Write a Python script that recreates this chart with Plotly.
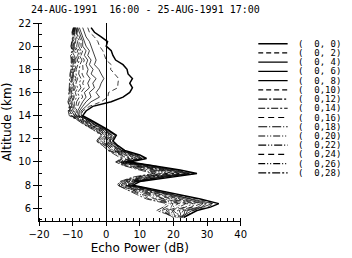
import plotly.graph_objects as go

# Altitude grid (km)
altitude = [21.6, 21.2, 20.8, 20.4, 20.0, 19.6, 19.2, 18.8, 18.4, 18.0, 17.6, 17.2, 16.8, 16.4,
            16.0, 15.6, 15.2, 14.8, 14.4, 14.0, 13.6, 13.2, 12.8, 12.3, 11.8, 11.4, 11.0, 10.6,
            10.3, 10.0, 9.7, 9.3, 9.0, 8.7, 8.3, 8.0, 7.6, 7.2, 6.8, 6.4, 6.1, 5.8, 5.5, 5.2]

# Echo power profiles (dB) per beam (azimuth, zenith)
p00 = [-4.5, -3.5, -1.5, 0.4, 0.0, 1.5, 2.0, 2.8, 5.0, 6.2, 6.5, 7.8, 7.0, 7.8, 7.0, 5.0, 1.5, -4.0, -6.0,
       -7, -4.5, -2, 0.5, 3, 2, 3.5, 5.5, 10, 12, 7, 14, 22, 27, 19, 10, 8, 15, 22, 28, 33.5, 31, 27, 25, 23]
p02 = [-5.5, -5.0, -3.5, -2.5, -2.0, -1.0, -0.5, 0.0, 1.5, 1.3, 2.5, 3.7, 3.5, 3.4, 0.7, 0.5, -1.5, -5.0, -7.0,
       -7.5, -4.6, -2.5, 0.4, 2.5, 1.8, 3.0, 5.3, 9.3, 11.7, 6.5, 13.6, 20.8, 26.3, 18.0, 9.8, 7.5, 14.6, 20.8, 27.2, 32.0, 30.3, 25.8, 24.7, 22.6]
p04 = [-7.0, -6.5, -6.0, -5.0, -4.5, -4.0, -3.5, -3.0, -3.5, -2.2, -1.5, -0.7, -1.5, -2.0, -3.0, -2.0, -4.5, -6.0, -7.5,
       -7.4, -5.3, -2.4, -0.3, 2.6, 1.1, 3.1, 4.6, 9.2, 10.7, 6.6, 12.5, 20.5, 24.8, 17.6, 8.9, 7.5, 13.5, 20.3, 25.4, 31.5, 28.7, 25.5, 23.8, 22.4]
p06 = [-8.0, -7.5, -7.0, -6.5, -6.0, -5.0, -5.5, -4.5, -5.0, -3.9, -4.5, -3.0, -4.0, -3.5, -5.0, -4.5, -6.0, -7.0, -8.0,
       -8.1, -5.2, -3.2, -0.3, 1.8, 1.1, 2.3, 4.6, 8.3, 10.6, 5.9, 12.3, 19.2, 24.5, 16.4, 8.9, 6.8, 13.3, 19.0, 24.9, 29.8, 28.3, 24.2, 23.7, 22.2]
p08 = [-8.5, -8.0, -7.5, -7.0, -7.0, -6.0, -6.5, -5.5, -6.0, -5.4, -5.8, -4.8, -5.5, -5.0, -6.5, -6.0, -7.0, -7.8, -8.5,
       -8.3, -5.4, -3.5, -0.6, 1.5, 0.8, 2.0, 4.3, 7.8, 10.1, 5.6, 11.6, 18.4, 23.6, 15.7, 8.5, 6.5, 12.6, 18.1, 23.7, 28.8, 27.3, 23.4, 23.2, 21.9]
p10 = [-8.5, -8.5, -8.0, -7.5, -7.5, -7.0, -7.5, -6.5, -7.0, -6.9, -7.2, -6.5, -7.0, -6.5, -7.5, -7.0, -8.0, -8.5, -9.0,
       -8.2, -6.1, -3.4, -1.3, 1.6, 0.0, 2.1, 3.5, 7.7, 9.1, 5.7, 10.6, 17.9, 22.1, 15.3, 7.7, 6.5, 11.6, 17.6, 22.0, 28.2, 25.7, 22.9, 22.3, 22.1]
p12 = [-9.0, -8.8, -8.5, -8.0, -8.2, -7.5, -8.0, -7.2, -7.8, -8.0, -8.2, -7.5, -8.0, -7.5, -8.5, -8.0, -8.8, -9.0, -9.5,
       -8.9, -6.0, -4.1, -1.2, 0.9, 0.1, 1.4, 3.6, 6.8, 9.0, 5.0, 10.3, 16.7, 21.7, 14.1, 7.6, 5.8, 11.3, 16.2, 21.4, 26.6, 25.3, 21.7, 22.2, 21.5]
p14 = [-9.0, -9.0, -8.8, -8.5, -8.8, -8.0, -8.5, -8.0, -8.5, -8.9, -9.0, -8.5, -9.0, -8.5, -9.2, -8.8, -9.5, -9.5, -9.8,
       -8.8, -6.7, -4.1, -1.9, 0.9, -0.7, 1.4, 2.8, 6.7, 8.0, 5.1, 9.3, 16.2, 20.2, 13.7, 6.8, 5.8, 10.3, 15.7, 19.7, 25.9, 23.7, 21.2, 21.3, 21.7]
p16 = [-9.2, -9.3, -9.0, -9.0, -9.2, -8.5, -9.0, -8.5, -9.0, -9.3, -9.5, -9.0, -9.5, -9.2, -9.8, -9.5, -10.0, -9.8, -10.0,
       -9.5, -6.6, -4.8, -1.9, 0.2, -0.7, 0.7, 2.8, 5.8, 7.9, 4.4, 9.1, 14.9, 19.9, 12.5, 6.8, 5.1, 10.1, 14.4, 19.2, 24.3, 23.3, 19.9, 21.2, 21.1]
p18 = [-9.3, -9.5, -9.3, -9.3, -9.5, -9.0, -9.5, -9.0, -9.3, -9.6, -9.8, -9.5, -9.8, -9.6, -10.0, -9.8, -10.2, -10.0, -10.3,
       -9.4, -7.3, -4.7, -2.6, 0.3, -1.4, 0.8, 2.1, 5.7, 7.0, 4.5, 8.0, 14.5, 18.3, 12.1, 5.9, 5.2, 9.0, 13.8, 17.4, 23.7, 21.7, 19.5, 20.3, 21.3]
p20 = [-9.5, -9.6, -9.5, -9.6, -9.8, -9.3, -9.8, -9.4, -9.6, -9.8, -10.0, -9.8, -10.0, -10.0, -10.3, -10.0, -10.5, -10.3, -10.5,
       -10.1, -7.2, -5.4, -2.5, -0.4, -1.4, 0.1, 2.1, 4.8, 6.8, 3.8, 7.8, 13.2, 18.0, 10.9, 5.9, 4.4, 8.8, 12.5, 16.9, 22.1, 21.3, 18.2, 20.2, 20.7]
p22 = [-9.5, -9.8, -9.6, -9.8, -10.0, -9.6, -10.0, -9.7, -9.8, -10.0, -10.2, -10.0, -10.3, -10.2, -10.5, -10.3, -10.8, -10.5, -10.8,
       -10.3, -7.8, -5.3, -3.2, -0.3, -2.1, 0.2, 1.4, 4.7, 5.9, 3.9, 6.7, 12.8, 16.5, 10.6, 5.1, 4.5, 7.7, 12.0, 15.1, 21.5, 19.7, 17.8, 19.3, 20.8]
p24 = [-9.6, -10.0, -9.8, -10.0, -10.3, -9.8, -10.2, -10.0, -10.0, -10.1, -10.4, -10.3, -10.5, -10.5, -10.8, -10.5, -11.0, -10.7, -11.0,
       -10.6, -7.7, -6.1, -3.2, -1.1, -2.5, -0.2, 1.0, 4.2, 5.4, 3.2, 6.5, 11.5, 16.2, 9.4, 4.7, 3.8, 7.5, 10.7, 14.6, 19.9, 19.3, 16.5, 18.8, 20.2]
p26 = [-9.7, -10.0, -9.9, -10.2, -10.4, -10.0, -10.4, -10.2, -10.2, -10.3, -10.6, -10.5, -10.7, -10.8, -11.0, -10.7, -11.2, -10.9, -11.2,
       -10.5, -8.4, -6.0, -3.9, -1.0, -2.8, -0.5, 0.7, 3.7, 4.8, 3.0, 5.4, 11.1, 14.6, 9.0, 4.2, 3.5, 6.4, 10.1, 12.8, 19.3, 17.7, 16.1, 18.3, 20.0]
p28 = [-9.8, -10.2, -10.0, -10.3, -10.5, -10.2, -10.6, -10.4, -10.4, -10.5, -10.8, -10.8, -11.0, -11.0, -11.2, -11.0, -11.4, -11.0, -11.3,
       -11.0, -8.5, -6.5, -4.0, -1.5, -3.0, -1.0, 0.5, 3.0, 4.5, 2.8, 5.0, 10.0, 14.0, 8.0, 4.0, 3.3, 6.0, 9.0, 12.0, 18.0, 17.0, 15.0, 18.0, 20.0]

beam_labels = ["(  0, 0)", "(  0, 2)", "(  0, 4)", "(  0, 6)", "(  0, 8)", "(  0,10)", "(  0,12)", "(  0,14)",
               "(  0,16)", "(  0,18)", "(  0,20)", "(  0,22)", "(  0,24)", "(  0,26)", "(  0,28)"]
title_text = "24-AUG-1991  16:00 - 25-AUG-1991 17:00"

profiles = [p00, p02, p04, p06, p08, p10, p12, p14, p16, p18, p20, p22, p24, p26, p28]
dashes = ["solid", "5px,3px", "solid", "solid", "solid", "5px,3px", "9px,2px,2px,2px", "7px,2px,2px,2px",
          "6px,4px", "9px,2px,1px,2px", "7px,2px,1px,2px,1px,2px", "8px,2px,1px,2px,1px,2px", "6px,4px",
          "7px,2px,1px,2px,1px,2px", "8px,2px,2px,2px"]
widths = [1.5] + [0.75] * 14

fig = go.Figure()
for prof, dsh, w in zip(profiles, dashes, widths):
    fig.add_trace(go.Scatter(x=prof, y=altitude, mode="lines",
                             line=dict(color="black", width=w, dash=dsh),
                             showlegend=False, hoverinfo="skip"))

# legend drawn on its own small axes
for i, (lab, dsh, w) in enumerate(zip(beam_labels, dashes, widths)):
    fig.add_trace(go.Scatter(x=[0, 0.36], y=[i, i], mode="lines", xaxis="x3", yaxis="y3",
                             line=dict(color="black", width=max(w, 1.2), dash=dsh),
                             showlegend=False, hoverinfo="skip"))
    fig.add_annotation(x=0.46, y=i, xref="x3", yref="y3", text=lab, showarrow=False,
                       xanchor="left", yanchor="middle",
                       font=dict(family="DejaVu Sans Mono", size=9, color="black"))

W, H = 352, 258
ml, mr, mt, mb = 37, 6, 23, 33
pw = W - ml - mr
ph = H - mt - mb
xd_end = (244 - ml) / pw

fig.update_layout(
    width=W, height=H,
    margin=dict(l=ml, r=mr, t=mt, b=mb, pad=0),
    paper_bgcolor="white", plot_bgcolor="white",
    font=dict(family="DejaVu Sans", color="black", size=10),
    title=dict(text=title_text, x=31 / W, xanchor="left", xref="container",
               y=1 - 9 / H, yanchor="middle", yref="container",
               font=dict(family="DejaVu Sans Mono", size=10, color="black")),
    xaxis=dict(domain=[0, xd_end], range=[-20, 40], tick0=0, dtick=10,
               ticks="outside", ticklen=4, tickwidth=1, tickcolor="black",
               minor=dict(dtick=2, ticks="inside", ticklen=3, tickcolor="black", showgrid=False),
               showline=True, linecolor="black", linewidth=1, showgrid=False,
               zeroline=True, zerolinecolor="black", zerolinewidth=1,
               tickfont=dict(size=10), anchor="y",
               title=dict(text="Echo Power (dB)", font=dict(size=12), standoff=4)),
    xaxis2=dict(domain=[0, xd_end], range=[-20, 40], overlaying="x", side="top", anchor="y",
                tick0=0, dtick=10, ticks="inside", ticklen=5, tickcolor="black",
                minor=dict(dtick=2, ticks="inside", ticklen=3, tickcolor="black", showgrid=False),
                showticklabels=False, showline=True, linecolor="black", linewidth=1,
                showgrid=False, zeroline=False),
    yaxis=dict(domain=[0, 1], range=[4.9, 22], tick0=0, dtick=2,
               ticks="outside", ticklen=5, tickwidth=1, tickcolor="black",
               minor=dict(dtick=1, ticks="inside", ticklen=3, tickcolor="black", showgrid=False),
               showline=True, linecolor="black", linewidth=1, showgrid=False, zeroline=False,
               tickfont=dict(size=10), anchor="x",
               title=dict(text="Altitude (km)", font=dict(size=12), standoff=4)),
    yaxis2=dict(domain=[0, 1], range=[4.9, 22], overlaying="y", side="right", anchor="x",
                tick0=0, dtick=1, ticks="inside", ticklen=4, tickcolor="black",
                showticklabels=False, showline=True, linecolor="black", linewidth=1,
                showgrid=False, zeroline=False),
    xaxis3=dict(domain=[(262 - ml) / pw, 1.0], range=[0, 1], anchor="y3", visible=False,
                fixedrange=True),
    yaxis3=dict(domain=[(H - mb - 180) / ph, (H - mb - 40) / ph], range=[14.43, -0.43],
                anchor="x3", visible=False, fixedrange=True),
)

fig.write_html("out.html")
